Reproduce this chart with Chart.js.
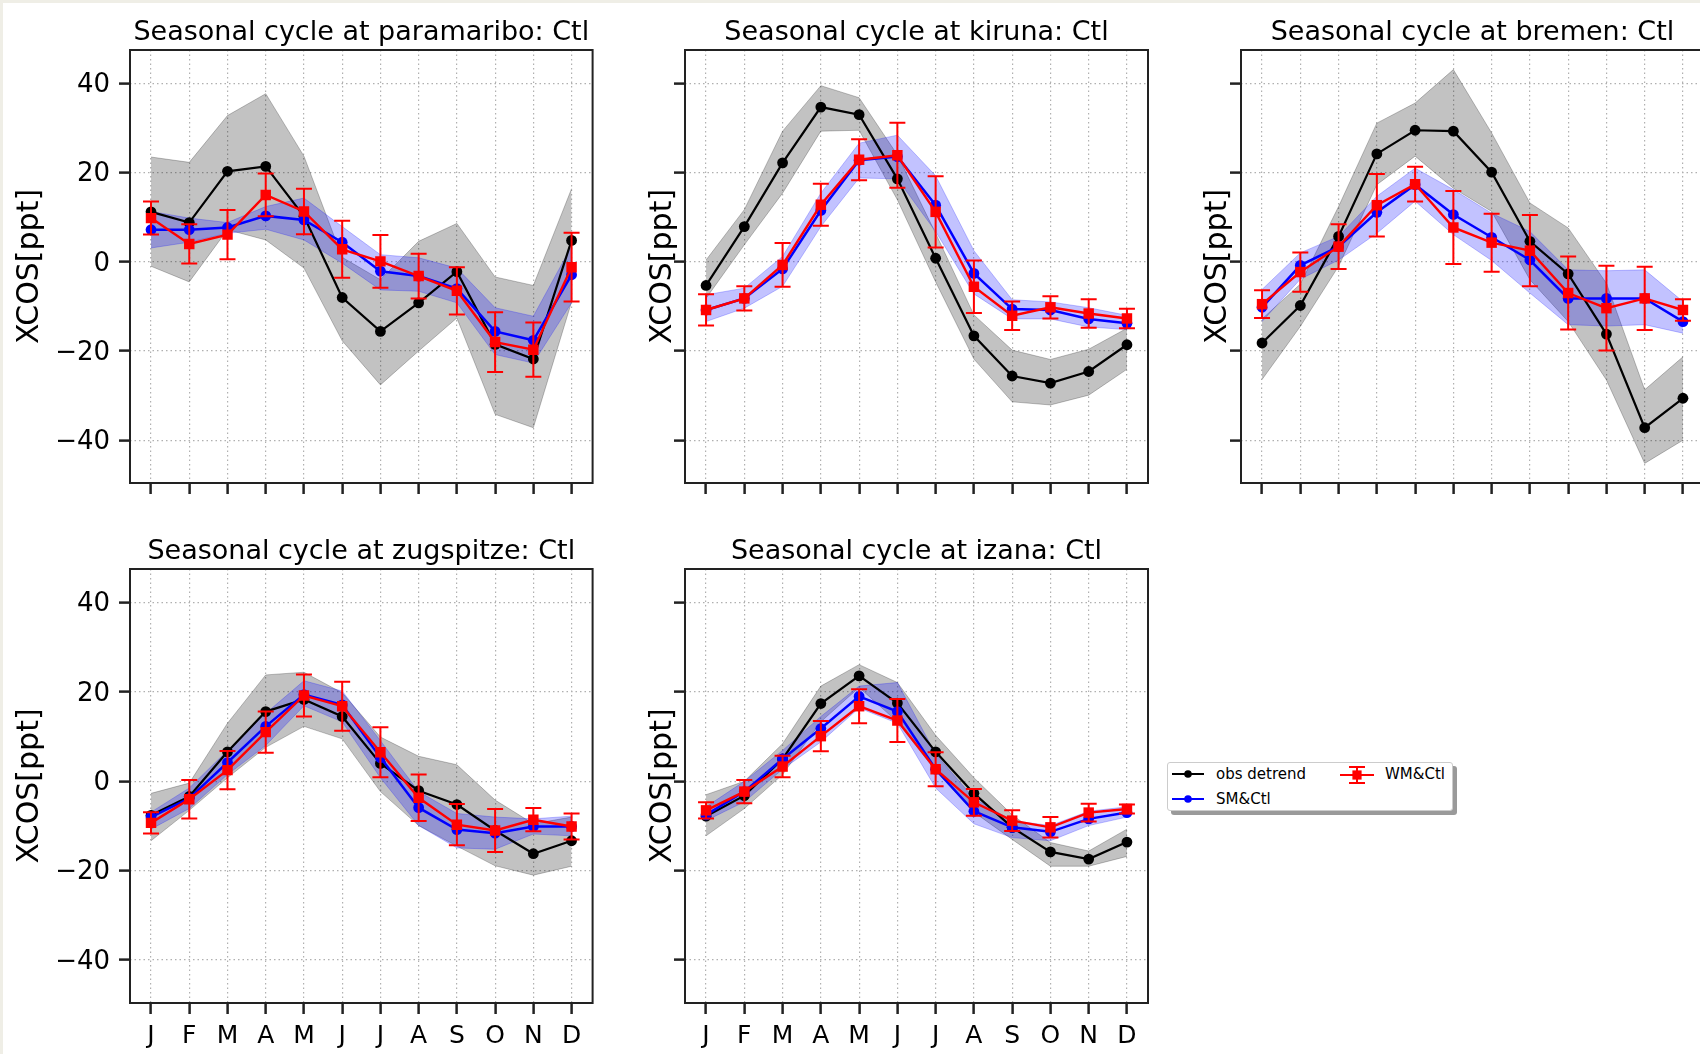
<!DOCTYPE html>
<html>
<head>
<meta charset="utf-8">
<script src="https://cdn.jsdelivr.net/npm/chart.js@4.4.1/dist/chart.umd.min.js"></script>
<style>
html, body { margin: 0; padding: 0; }
body { width: 1700px; height: 1054px; overflow: hidden; background: #efeee6; position: relative; font-family: 'DejaVu Sans', sans-serif; }
#sheet { position: absolute; left: 3px; top: 3px; width: 1697px; height: 1051px; background: #fff; }
canvas { position: absolute; }
#legend { position: absolute; left: 1167px; top: 762px; width: 286px; height: 49px; box-sizing: border-box; border: 1px solid #cccccc; border-radius: 3px; background: #fff; box-shadow: 4px 4px 0 #9a9a9a; font-size: 15px; color: #000; }
#legend .t { position: absolute; line-height: 18px; white-space: nowrap; }
#legend svg { position: absolute; }
</style>
</head>
<body>
<div id="sheet"></div>
<canvas id="c0"></canvas>
<canvas id="c1"></canvas>
<canvas id="c2"></canvas>
<canvas id="c3"></canvas>
<canvas id="c4"></canvas>
<div id="legend">
  <svg style="left:4px;top:4px" width="32" height="14"><line x1="0" y1="7" x2="32" y2="7" stroke="#000" stroke-width="2"/><circle cx="16" cy="7" r="3.8" fill="#000"/></svg>
  <span class="t" style="left:48px;top:2px">obs detrend</span>
  <svg style="left:4px;top:29px" width="32" height="14"><line x1="0" y1="7" x2="32" y2="7" stroke="#0000ff" stroke-width="2"/><circle cx="16" cy="7" r="3.8" fill="#0000ff"/></svg>
  <span class="t" style="left:48px;top:27px">SM&amp;Ctl</span>
  <svg style="left:172px;top:2px" width="34" height="20"><line x1="0" y1="10" x2="34" y2="10" stroke="#ff0000" stroke-width="2"/><line x1="17" y1="2" x2="17" y2="18" stroke="#ff0000" stroke-width="2"/><line x1="9" y1="2" x2="25" y2="2" stroke="#ff0000" stroke-width="2"/><line x1="9" y1="18" x2="25" y2="18" stroke="#ff0000" stroke-width="2"/><rect x="12.4" y="5.4" width="9.2" height="9.2" fill="#ff0000"/></svg>
  <span class="t" style="left:217px;top:2px">WM&amp;Ctl</span>
</div>
<script>
// ---------- data ----------
const months = ['J','F','M','A','M','J','J','A','S','O','N','D'];
const yTicks = [-40, -20, 0, 20, 40];
const stationNames = ['paramaribo', 'kiruna', 'bremen', 'zugspitze', 'izana'];

const paramariboObs     = [11.2, 8.8, 20.3, 21.4, 10.2, -8.0, -15.6, -9.2, -2.2, -18.5, -21.8, 4.8];
const paramariboObsHigh = [23.5, 22.3, 32.8, 37.7, 23.7, 1.0, -4.0, 4.6, 8.6, -3.4, -5.3, 16.4];
const paramariboObsLow  = [-1.0, -4.5, 7.2, 4.9, -1.4, -17.7, -27.6, -20.0, -12.6, -34.2, -37.2, -9.0];
const paramariboSM      = [7.2, 7.2, 7.7, 10.3, 9.4, 4.4, -2.1, -3.2, -6.0, -15.6, -17.6, -2.9];
const paramariboSMHigh  = [11.3, 9.8, 8.8, 12.4, 14.3, 7.9, 1.6, 0.9, -1.4, -10.3, -12.2, 3.5];
const paramariboSMLow   = [3.1, 4.4, 6.4, 7.3, 4.9, -0.3, -6.3, -6.6, -9.2, -20.8, -22.7, -9.2];
const paramariboWM      = [9.8, 4.0, 6.1, 15.0, 11.3, 2.8, 0.1, -3.2, -6.5, -18.0, -19.7, -1.2];
const paramariboWMErr   = [3.7, 4.4, 5.5, 4.8, 5.1, 6.4, 5.9, 5.0, 5.3, 6.7, 6.1, 7.7];

const kirunaObs     = [-5.3, 7.9, 22.2, 34.7, 33.0, 18.6, 0.8, -16.6, -25.6, -27.2, -24.6, -18.6];
const kirunaObsHigh = [0.4, 11.7, 29.3, 39.5, 36.8, 24.0, 6.4, -11.9, -19.8, -21.9, -19.6, -14.9];
const kirunaObsLow  = [-8.2, 3.8, 15.4, 29.3, 29.5, 13.9, -4.5, -21.8, -31.4, -32.1, -29.9, -24.1];
const kirunaSM      = [-10.8, -8.2, -1.6, 11.5, 22.8, 23.6, 12.7, -2.6, -10.6, -10.8, -12.8, -13.8];
const kirunaSMHigh  = [-7.4, -5.9, 1.2, 15.4, 26.6, 28.4, 19.3, 2.5, -8.5, -9.0, -10.3, -12.0];
const kirunaSMLow   = [-13.4, -10.4, -5.5, 7.9, 18.8, 18.6, 6.8, -7.2, -12.8, -12.8, -14.6, -15.2];
const kirunaWM      = [-10.8, -8.2, -0.7, 12.8, 22.9, 23.9, 11.2, -5.6, -12.1, -10.2, -11.6, -12.7];
const kirunaWMErr   = [3.5, 2.7, 4.9, 4.7, 4.6, 7.3, 8.0, 5.9, 3.2, 2.5, 3.2, 2.2];

const bremenObs     = [-18.2, -9.8, 5.7, 24.2, 29.5, 29.3, 20.1, 4.6, -2.7, -16.2, -37.2, -30.6];
const bremenObsHigh = [-12.8, -5.0, 12.4, 31.1, 35.6, 43.1, 28.9, 13.2, 7.6, -4.8, -28.7, -21.3];
const bremenObsLow  = [-26.4, -14.5, -1.0, 17.3, 23.7, 16.5, 11.3, -4.0, -13.4, -26.5, -45.2, -40.0];
const bremenSM      = [-10.2, -0.8, 3.4, 11.1, 17.3, 10.6, 5.5, 0.4, -8.2, -8.2, -8.2, -13.4];
const bremenSMHigh  = [-6.2, 2.0, 5.7, 14.7, 21.0, 16.2, 10.9, 6.8, -1.8, -2.0, -1.8, -8.9];
const bremenSMLow   = [-13.4, -3.9, 0.4, 6.4, 13.6, 6.1, 0.3, -7.0, -14.1, -14.4, -14.1, -16.0];
const bremenWM      = [-9.5, -2.3, 3.4, 12.7, 17.4, 7.7, 4.3, 2.5, -7.0, -10.4, -8.2, -10.8];
const bremenWMErr   = [3.1, 4.4, 5.0, 7.0, 3.9, 8.2, 6.5, 8.0, 8.2, 9.5, 7.1, 2.4];

const zugspitzeObs     = [-7.6, -3.4, 6.6, 15.6, 18.3, 14.5, 4.0, -2.1, -5.2, -11.0, -16.2, -13.3];
const zugspitzeObsHigh = [-2.7, -0.4, 13.0, 23.8, 24.4, 19.8, 9.9, 5.6, 3.7, -4.2, -9.5, -8.0];
const zugspitzeObsLow  = [-13.3, -6.5, 0.8, 7.6, 12.3, 9.5, -2.3, -9.9, -14.5, -18.9, -21.0, -19.0];
const zugspitzeSM      = [-8.0, -3.8, 4.2, 12.3, 19.4, 17.1, 5.3, -5.9, -10.8, -11.6, -10.1, -10.1];
const zugspitzeSMHigh  = [-6.9, -1.5, 6.9, 15.2, 22.5, 20.2, 9.1, -2.3, -7.2, -8.0, -8.4, -7.8];
const zugspitzeSMLow   = [-10.7, -6.1, 1.5, 8.0, 16.9, 13.3, 0.8, -9.9, -14.9, -15.2, -11.8, -12.2];
const zugspitzeWM      = [-9.3, -4.0, 2.5, 11.0, 19.2, 16.8, 6.5, -3.7, -9.7, -11.0, -8.6, -10.1];
const zugspitzeWMErr   = [2.4, 4.3, 4.3, 4.6, 4.7, 5.5, 5.6, 5.2, 4.6, 4.8, 2.6, 2.9];

const izanaObs     = [-7.8, -3.2, 5.0, 17.4, 23.6, 17.5, 6.6, -2.7, -10.3, -15.8, -17.4, -13.6];
const izanaObsHigh = [-3.0, 0.0, 8.4, 21.3, 26.1, 22.1, 10.3, 0.8, -7.5, -13.7, -15.6, -10.7];
const izanaObsLow  = [-12.2, -6.1, 1.5, 13.3, 21.0, 13.3, 2.3, -6.9, -13.0, -19.0, -19.0, -16.8];
const izanaSM      = [-7.5, -2.3, 5.0, 11.8, 19.0, 15.6, 2.7, -6.7, -10.3, -11.3, -8.4, -7.0];
const izanaSMHigh  = [-5.7, 0.0, 6.9, 14.5, 21.3, 22.1, 6.1, -3.8, -8.8, -9.9, -6.7, -5.7];
const izanaSMLow   = [-8.8, -4.6, 2.7, 8.8, 16.4, 13.0, -1.5, -9.5, -12.6, -13.3, -9.9, -8.0];
const izanaWM      = [-6.5, -2.3, 3.3, 10.1, 16.8, 13.6, 2.7, -4.7, -8.8, -10.3, -7.0, -6.2];
const izanaWMErr   = [1.8, 2.6, 2.4, 3.4, 3.8, 4.8, 3.8, 3.0, 2.3, 2.3, 2.0, 1.0];

// ---------- assemble ----------
const stationSeries = [
  [paramariboObs, paramariboObsHigh, paramariboObsLow, paramariboSM, paramariboSMHigh, paramariboSMLow, paramariboWM, paramariboWMErr],
  [kirunaObs, kirunaObsHigh, kirunaObsLow, kirunaSM, kirunaSMHigh, kirunaSMLow, kirunaWM, kirunaWMErr],
  [bremenObs, bremenObsHigh, bremenObsLow, bremenSM, bremenSMHigh, bremenSMLow, bremenWM, bremenWMErr],
  [zugspitzeObs, zugspitzeObsHigh, zugspitzeObsLow, zugspitzeSM, zugspitzeSMHigh, zugspitzeSMLow, zugspitzeWM, zugspitzeWMErr],
  [izanaObs, izanaObsHigh, izanaObsLow, izanaSM, izanaSMHigh, izanaSMLow, izanaWM, izanaWMErr]
];

// layout: canvas rect and plot box (page pixels)
const layoutSpec = [
  {cx: 0,    cy: 0,   cw: 600, ch: 519, box: [130, 50, 593, 483],   yLab: true,  xLab: false, titlePad: 12},
  {cx: 640,  cy: 0,   cw: 520, ch: 519, box: [685, 50, 1148, 483],  yLab: false, xLab: false, titlePad: 5},
  {cx: 1195, cy: 0,   cw: 520, ch: 519, box: [1241, 50, 1704, 483], yLab: false, xLab: false, titlePad: 5},
  {cx: 0,    cy: 519, cw: 600, ch: 535, box: [130, 569, 593, 1003], yLab: true,  xLab: true,  titlePad: 12},
  {cx: 640,  cy: 519, cw: 520, ch: 535, box: [685, 569, 1148, 1003], yLab: false, xLab: true, titlePad: 5}
];

Chart.defaults.font.family = "'DejaVu Sans', sans-serif";
Chart.defaults.color = '#000';

const errorBarPlugin = {
  id: 'errorBars',
  afterDatasetsDraw(chart) {
    const {ctx, chartArea: a} = chart;
    const xs = chart.scales.x, ys = chart.scales.y;
    ctx.save();
    ctx.beginPath();
    ctx.rect(a.left, a.top, a.right - a.left, a.bottom - a.top);
    ctx.clip();
    chart.data.datasets.forEach(ds => {
      if (!ds.errors) return;
      ctx.strokeStyle = ds.borderColor;
      ctx.lineWidth = 2;
      ds.data.forEach((pt, i) => {
        const e = ds.errors[i];
        const px = xs.getPixelForValue(pt.x);
        const yHi = ys.getPixelForValue(pt.y + e);
        const yLo = ys.getPixelForValue(pt.y - e);
        ctx.beginPath();
        ctx.moveTo(px, yLo); ctx.lineTo(px, yHi);
        ctx.moveTo(px - 8, yLo); ctx.lineTo(px + 8, yLo);
        ctx.moveTo(px - 8, yHi); ctx.lineTo(px + 8, yHi);
        ctx.stroke();
      });
    });
    ctx.restore();
  }
};

const framePlugin = {
  id: 'frame',
  afterDatasetsDraw(chart) {
    const {ctx, chartArea: a} = chart;
    ctx.save();
    ctx.strokeStyle = '#222';
    ctx.lineWidth = 2;
    ctx.strokeRect(a.left, a.top, a.right - a.left, a.bottom - a.top);
    ctx.restore();
  }
};

const toXY = arr => arr.map((v, i) => ({x: i, y: v}));
const fmtY = v => (v < 0 ? '\u2212' + Math.abs(v) : String(v));

stationNames.forEach((name, k) => {
  const L = layoutSpec[k];
  const [obs, obsHi, obsLo, sm, smHi, smLo, wm, wmErr] = stationSeries[k];
  const cv = document.getElementById('c' + k);
  cv.width = L.cw; cv.height = L.ch;
  cv.style.left = L.cx + 'px'; cv.style.top = L.cy + 'px';
  cv.style.width = L.cw + 'px'; cv.style.height = L.ch + 'px';

  const greyFill = 'rgba(0,0,0,0.24)';
  const blueFill = 'rgba(0,0,255,0.24)';

  const datasets = [
    {label: 'obs band hi', data: toXY(obsHi), fill: '+1', backgroundColor: greyFill, borderColor: greyFill, borderWidth: 1, pointRadius: 0, tension: 0, order: 5},
    {label: 'obs band lo', data: toXY(obsLo), fill: false, borderColor: greyFill, borderWidth: 1, pointRadius: 0, tension: 0, order: 5},
    {label: 'SM band hi', data: toXY(smHi), fill: '+1', backgroundColor: blueFill, borderColor: blueFill, borderWidth: 1, pointRadius: 0, tension: 0, order: 4},
    {label: 'SM band lo', data: toXY(smLo), fill: false, borderColor: blueFill, borderWidth: 1, pointRadius: 0, tension: 0, order: 4},
    {label: 'obs detrend', data: toXY(obs), fill: false, borderColor: '#000', backgroundColor: '#000', borderWidth: 2.2, pointRadius: 5.4, pointBorderWidth: 0, pointBackgroundColor: '#000', tension: 0, order: 3},
    {label: 'SM&Ctl', data: toXY(sm), fill: false, borderColor: '#0000ff', backgroundColor: '#0000ff', borderWidth: 2.5, pointRadius: 5.4, pointBorderWidth: 0, pointBackgroundColor: '#0000ff', tension: 0, order: 2},
    {label: 'WM&Ctl', data: toXY(wm), errors: wmErr, fill: false, borderColor: '#ff0000', backgroundColor: '#ff0000', borderWidth: 2.4, pointStyle: 'rect', pointRadius: 7.4, pointBorderWidth: 0, pointBackgroundColor: '#ff0000', tension: 0, order: 1}
  ];

  const xHeight = (L.cy + L.ch) - L.box[3];
  const yWidth = L.box[0] - L.cx;

  new Chart(cv, {
    type: 'line',
    data: {datasets},
    plugins: [errorBarPlugin, framePlugin],
    options: {
      responsive: false,
      animation: false,
      devicePixelRatio: 1,
      events: [],
      layout: {padding: {top: L.box[1] - L.cy - 33.2, right: (L.cx + L.cw) - L.box[2], left: 0, bottom: 0}},
      plugins: {
        legend: {display: false},
        tooltip: {enabled: false},
        title: {
          display: true,
          text: 'Seasonal cycle at ' + name + ': Ctl',
          fullSize: false,
          align: 'center',
          color: '#000',
          font: {size: 27, weight: 'normal'},
          padding: {top: 0, bottom: 0.8}
        }
      },
      scales: {
        x: {
          type: 'linear',
          min: -0.55,
          max: 11.55,
          afterBuildTicks: s => { s.ticks = months.map((m, i) => ({value: i})); },
          afterFit: s => { s.height = xHeight; },
          ticks: {
            display: L.xLab,
            autoSkip: false,
            maxRotation: 0,
            padding: 7.5,
            color: '#000',
            font: {size: 25},
            callback: v => months[v]
          },
          grid: {color: '#b0b0b0', lineWidth: 1.2, tickLength: 11, tickWidth: 2.5, tickColor: '#222', tickBorderDash: []},
          border: {display: false, dash: [1.5, 3]}
        },
        y: {
          type: 'linear',
          min: -49.6,
          max: 47.5,
          afterBuildTicks: s => { s.ticks = yTicks.map(v => ({value: v})); },
          afterFit: s => { s.width = yWidth; },
          ticks: {
            display: L.yLab,
            padding: 9,
            labelOffset: 2,
            color: '#000',
            font: {size: 26},
            callback: v => fmtY(v)
          },
          title: {
            display: true,
            text: 'XCOS[ppt]',
            color: '#000',
            font: {size: 30},
            padding: {top: L.titlePad, bottom: 0}
          },
          grid: {color: '#b0b0b0', lineWidth: 1.2, tickLength: 11, tickWidth: 2.5, tickColor: '#222', tickBorderDash: []},
          border: {display: false, dash: [1.5, 3]}
        }
      }
    }
  });
});
</script>
</body>
</html>
